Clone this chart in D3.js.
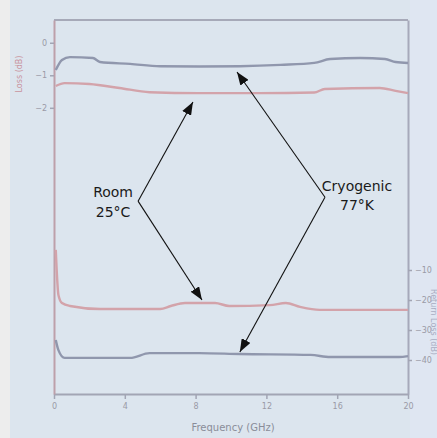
<!DOCTYPE html>
<html>
<head>
<meta charset="utf-8">
<script src="https://cdn.jsdelivr.net/npm/d3@7"></script>
<style>
  body { margin: 0; background: #dce5ee; }
  svg { display: block; }
  .note { font: 14px "DejaVu Sans", sans-serif; fill: #1a1a1a; text-anchor: middle; }
  .tick text { font: 8px "DejaVu Sans", sans-serif; fill: #9a9aa6; }
</style>
</head>
<body>
<script>
  // frequency axis
  const xTicks = [0, 4, 8, 12, 16, 20];
  const xTickLabels = ["0", "4", "8", "12", "16", "20"];
  const leftTicks = [0, -1, -2];
  const rightTicks = [-10, -20, -30, -40];

  // upper pair (left axis)
  const cryoTopX = [0.1, 0.45, 0.9, 2.2, 2.6, 4.3, 6.0, 8.2, 10.5, 12.8, 14.7, 15.6, 17.3, 18.7, 19.3, 20];
  const cryoTopY = [-0.84, -0.53, -0.44, -0.47, -0.59, -0.65, -0.72, -0.73, -0.72, -0.68, -0.62, -0.50, -0.47, -0.50, -0.59, -0.62];
  const roomTopX = [0.1, 0.6, 2.0, 3.7, 5.4, 8.2, 11.6, 14.7, 15.3, 18.4, 19.3, 20];
  const roomTopY = [-1.33, -1.24, -1.27, -1.39, -1.52, -1.55, -1.55, -1.53, -1.42, -1.39, -1.48, -1.55];

  // lower pair (right axis)
  const roomBotX = [0.1, 0.25, 0.45, 0.9, 2.6, 6.0, 6.6, 7.4, 9.1, 9.9, 12.2, 13.1, 13.9, 15.0, 20];
  const roomBotY = [-3.3, -18.3, -21, -22, -23, -23, -22, -21, -21, -22, -21.7, -21, -22.3, -23.3, -23.3];
  const cryoBotX = [0.1, 0.25, 0.6, 4.3, 5.4, 8.2, 10.5, 14.5, 15.6, 19.5, 20];
  const cryoBotY = [-33.3, -36.7, -39.3, -39.3, -37.7, -37.7, -38, -38.3, -39, -39, -38.7];

  const W = 437, H = 438;
  const plot = { left: 54, right: 408, top: 20, bottom: 394 };

  const x = d3.scaleLinear().domain([0, 20]).range([plot.left, plot.right]);
  const yL = d3.scaleLinear().domain([0.7, -10.8]).range([plot.top, plot.bottom]);
  const yR = d3.scaleLinear().domain([73.33, -51.33]).range([plot.top, plot.bottom]);

  const svg = d3.select("body").append("svg").attr("width", W).attr("height", H);

  svg.append("rect").attr("width", W).attr("height", H).attr("fill", "#dce5ee");
  svg.append("rect").attr("width", 10).attr("height", H).attr("fill", "#ededed");
  svg.append("rect").attr("x", plot.right + 2).attr("width", W - plot.right - 2).attr("height", H).attr("fill", "#dfe6f2");

  // frame
  svg.append("line").attr("x1", plot.left).attr("x2", plot.right)
    .attr("y1", plot.top).attr("y2", plot.top)
    .attr("stroke", "#a6a9b8").attr("stroke-width", 2);

  // axes
  const bottom = svg.append("g").attr("transform", `translate(0,${plot.bottom})`)
    .call(d3.axisBottom(x).tickValues(xTicks).tickFormat((d, i) => xTickLabels[i]).tickSize(5).tickSizeOuter(0).tickPadding(4));
  const left = svg.append("g").attr("transform", `translate(${plot.left},0)`)
    .call(d3.axisLeft(yL).tickValues(leftTicks).tickSize(4).tickSizeOuter(0).tickPadding(3));
  const right = svg.append("g").attr("transform", `translate(${plot.right},0)`)
    .call(d3.axisRight(yR).tickValues(rightTicks).tickSize(4).tickSizeOuter(0).tickPadding(3));

  bottom.select(".domain").attr("stroke", "#a2a5b4").attr("stroke-width", 2);
  left.select(".domain").attr("stroke", "#bda0aa").attr("stroke-width", 2);
  right.select(".domain").attr("stroke", "#a6a9ba").attr("stroke-width", 2);
  svg.selectAll(".tick line").attr("stroke", "#a2a5b4").attr("stroke-width", 1.5);
  left.selectAll(".tick text").attr("fill", "#a48f9a");

  svg.append("text")
    .attr("x", 233).attr("y", 431).attr("text-anchor", "middle")
    .style("font", "10px 'DejaVu Sans', sans-serif").attr("fill", "#8a8d99")
    .text("Frequency (GHz)");
  svg.append("text")
    .attr("transform", "translate(22,74) rotate(-90)").attr("text-anchor", "middle")
    .style("font", "8px 'DejaVu Sans', sans-serif").attr("fill", "#c9949e")
    .text("Loss (dB)");
  svg.append("text")
    .attr("transform", "translate(431,322) rotate(90)").attr("text-anchor", "middle")
    .style("font", "8px 'DejaVu Sans', sans-serif").attr("fill", "#a9adc2")
    .text("Return Loss (dB)");

  // curves
  const zip = (xs, ys) => xs.map((v, i) => [v, ys[i]]);
  const series = [
    { pts: zip(cryoTopX, cryoTopY), y: yL, color: "#9097ad" },
    { pts: zip(roomTopX, roomTopY), y: yL, color: "#d3a3aa" },
    { pts: zip(roomBotX, roomBotY), y: yR, color: "#d3a3aa" },
    { pts: zip(cryoBotX, cryoBotY), y: yR, color: "#9097ad" }
  ];
  svg.append("g").selectAll("path").data(series).enter().append("path")
    .attr("fill", "none")
    .attr("stroke", d => d.color)
    .attr("stroke-width", 2.4)
    .attr("stroke-linejoin", "round")
    .attr("d", d => d3.line().x(p => x(p[0])).y(p => d.y(p[1])).curve(d3.curveMonotoneX)(d.pts));

  // annotations
  svg.append("defs").append("marker")
    .attr("id", "head").attr("markerUnits", "userSpaceOnUse")
    .attr("markerWidth", 14).attr("markerHeight", 10)
    .attr("refX", 13).attr("refY", 5).attr("orient", "auto")
    .append("path").attr("d", "M0,0L13,5L0,10Z").attr("fill", "#111");

  const notes = [
    { lines: ["Room", "25°C"], vx: 4.75, vy: -4.87, dx: -25, dy: [-4, 16],
      tips: [[7.85, yL, -1.82], [8.36, yR, -20]] },
    { lines: ["Cryogenic", "77°K"], vx: 15.31, vy: -4.75, dx: 32, dy: [-6, 13],
      tips: [[10.34, yL, -0.9], [10.5, yR, -37.3]] }
  ];
  notes.forEach(n => {
    const vx = x(n.vx), vy = yL(n.vy);
    n.tips.forEach(t => {
      svg.append("line")
        .attr("x1", vx).attr("y1", vy)
        .attr("x2", x(t[0])).attr("y2", t[1](t[2]))
        .attr("stroke", "#111").attr("stroke-width", 1.1)
        .attr("marker-end", "url(#head)");
    });
    n.lines.forEach((s, i) => {
      svg.append("text").attr("class", "note")
        .attr("x", vx + n.dx).attr("y", vy + n.dy[i]).text(s);
    });
  });
</script>
</body>
</html>
